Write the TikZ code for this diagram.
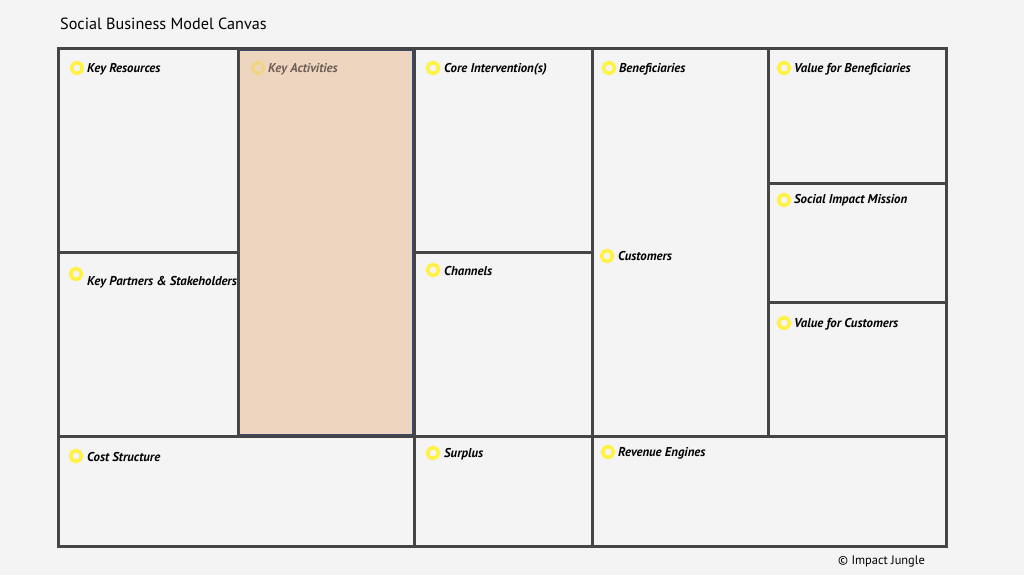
\documentclass[tikz,border=0pt]{standalone}
\usepackage{fontspec}
\setmainfont{PT Sans}
\definecolor{bg}{HTML}{F4F4F4}
\definecolor{gridc}{HTML}{454545}
\definecolor{ring}{HTML}{FFF244}
\definecolor{ringfade}{HTML}{EFD585}
\definecolor{peach}{HTML}{EED5BF}
\definecolor{navy}{HTML}{3B4A6B}
\definecolor{fadetext}{HTML}{6E5E55}
\tikzset{
  gridline/.style={draw=gridc, line width=3pt},
  dot/.style={draw=ring, line width=3.6pt},
  dotfade/.style={draw=ringfade, line width=3.6pt},
  lab/.style={anchor=west, inner sep=0pt, yshift=-1pt, font=\fontsize{12.8}{15}\selectfont\bfseries\itshape},
}
\begin{document}
\begin{tikzpicture}[x=1pt,y=-1pt]
\useasboundingbox (0,0) rectangle (1024,575);
\fill[bg] (0,0) rectangle (1024,575);
\node[anchor=west, inner sep=0pt, font=\fontsize{16.2}{19}\selectfont] (title) at (60,24) {Social Business Model Canvas};
% key activities fill
\fill[peach] (238,49) rectangle (414,436);
% grid
\draw[gridline] (58,49) rectangle (946,546);
\draw[gridline] (238,49) -- (238,436);
\draw[gridline] (414,49) -- (414,546);
\draw[gridline] (592,49) -- (592,546);
\draw[gridline] (768,49) -- (768,436);
\draw[gridline] (58,436) -- (946,436);
\draw[gridline] (58,252) -- (238,252);
\draw[gridline] (414,252) -- (592,252);
\draw[gridline] (768,183) -- (946,183);
\draw[gridline] (768,302) -- (946,302);
\draw[navy, line width=1.2pt] (239.5,50.5) rectangle (412.5,434.5);
% labels
\draw[dot] (77,68) circle (5.5);
\node[lab] (kr) at (87,68) {Key Resources};
\draw[dotfade] (258,68) circle (5.5);
\node[lab, text=fadetext] (ka) at (268,68) {Key Activities};
\draw[dot] (433,68) circle (5.5);
\node[lab] (ci) at (444,68) {Core Intervention(s)};
\draw[dot] (609,68) circle (5.5);
\node[lab] (be) at (619,68) {Beneficiaries};
\draw[dot] (784,68) circle (5.5);
\node[lab] (vb) at (794,68) {Value for Beneficiaries};
\draw[dot] (784,200) circle (5.5);
\node[lab] (sim) at (794,199) {Social Impact Mission};
\draw[dot] (784,323) circle (5.5);
\node[lab] (vc) at (794,323) {Value for Customers};
\draw[dot] (607,256) circle (5.5);
\node[lab] (cu) at (618,255) {Customers};
\draw[dot] (433,270) circle (5.5);
\node[lab] (ch) at (444,270) {Channels};
\draw[dot] (76,274) circle (5.5);
\node[lab] (kp) at (87,281) {Key Partners \& Stakeholders};
\draw[dot] (76,456) circle (5.5);
\node[lab] (cs) at (87,456) {Cost Structure};
\draw[dot] (433,453) circle (5.5);
\node[lab] (su) at (444,453) {Surplus};
\draw[dot] (608,452) circle (5.5);
\node[lab] (re) at (618,452) {Revenue Engines};
\node[anchor=west, inner sep=0pt, font=\fontsize{12.4}{14}\selectfont] (copy) at (838,561) {© Impact Jungle};
\end{tikzpicture}
\end{document}
